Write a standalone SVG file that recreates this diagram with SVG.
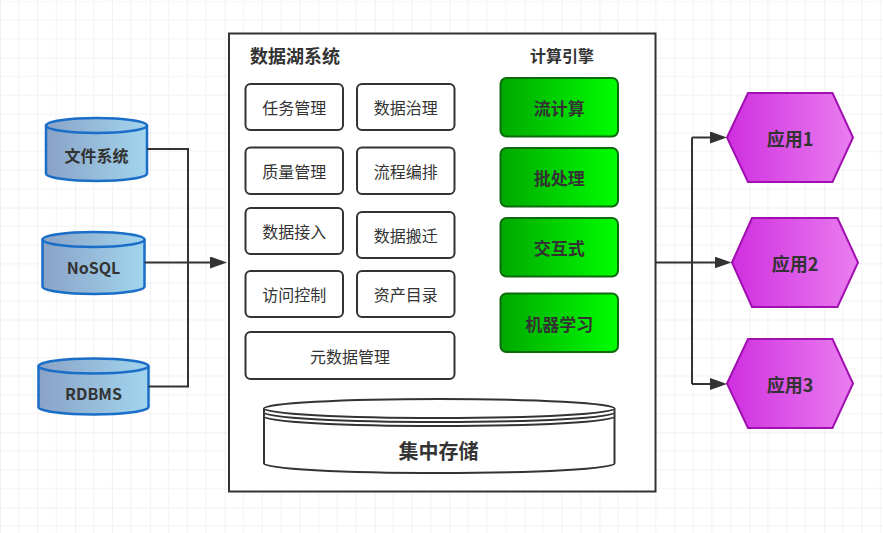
<svg xmlns="http://www.w3.org/2000/svg" width="883" height="533" viewBox="0 0 883 533">
<style>
text{font-family:"Noto Sans CJK SC","Noto Sans",sans-serif;fill:#333;text-anchor:middle;dominant-baseline:central}
.b{font-weight:bold}
.box{fill:#fff;stroke:#333;stroke-width:2}
.green{fill:url(#gGreen);stroke:#0d6b0d;stroke-width:2}
.cyl{fill:url(#gBlue);stroke:#1a6ec8;stroke-width:2.5}
.hex{fill:url(#gPink);stroke:#a010b0;stroke-width:2}
.store{fill:#fff;stroke:#333;stroke-width:2}
.conn{fill:none;stroke:#333;stroke-width:2}
</style>
<defs>
<pattern id="grid" patternUnits="userSpaceOnUse" x="0" y="57.7" width="74.93" height="74.93">
<path d="M18.73,0V74.93M37.47,0V74.93M56.2,0V74.93M0,18.73H74.93M0,37.47H74.93M0,56.2H74.93" stroke="#f2f2f2" stroke-width="1" fill="none"/>
<path d="M0,0V74.93M0,0H74.93" stroke="#e4e4e4" stroke-width="1" fill="none"/>
</pattern>
<linearGradient id="gGreen" x1="0" y1="0" x2="1" y2="0"><stop offset="0" stop-color="#00a800"/><stop offset="1" stop-color="#00ff00"/></linearGradient>
<linearGradient id="gBlue" x1="0" y1="0" x2="1" y2="0"><stop offset="0" stop-color="#8aa2c6"/><stop offset="1" stop-color="#a2d6ee"/></linearGradient>
<linearGradient id="gPink" x1="0" y1="0" x2="1" y2="0"><stop offset="0" stop-color="#cf2fdf"/><stop offset="1" stop-color="#ea7ef0"/></linearGradient>
<marker id="arr" markerUnits="userSpaceOnUse" markerWidth="17" markerHeight="12" refX="7" refY="6" orient="auto">
<path d="M0,0L17,6L0,12Z" fill="#333"/>
</marker>
</defs>
<rect width="883" height="533" fill="#fff"/>
<rect width="883" height="533" fill="url(#grid)"/>

<g id="container">
<rect x="229" y="33.5" width="426.5" height="458" fill="#fff" stroke="#333" stroke-width="2"/>
<text class="b" x="295" y="55" font-size="18">数据湖系统</text>
<text class="b" x="562" y="55" font-size="16">计算引擎</text>
</g>

<g id="task"><rect class="box" x="245.5" y="84" width="97.5" height="46" rx="5"/><text x="294.2" y="107" font-size="16">任务管理</text></g>
<g id="govern"><rect class="box" x="357" y="84" width="97.5" height="46" rx="5"/><text x="405.7" y="107" font-size="16">数据治理</text></g>
<g id="quality"><rect class="box" x="245.5" y="147.5" width="97.5" height="46.5" rx="5"/><text x="294.2" y="171" font-size="16">质量管理</text></g>
<g id="flow"><rect class="box" x="357" y="147.5" width="97.5" height="46.5" rx="5"/><text x="405.7" y="171" font-size="16">流程编排</text></g>
<g id="ingest"><rect class="box" x="245.5" y="208" width="97.5" height="46" rx="5"/><text x="294.2" y="231" font-size="16">数据接入</text></g>
<g id="migrate"><rect class="box" x="357" y="212" width="97.5" height="46" rx="5"/><text x="405.7" y="235" font-size="16">数据搬迁</text></g>
<g id="access"><rect class="box" x="245.5" y="271" width="97.5" height="46" rx="5"/><text x="294.2" y="294" font-size="16">访问控制</text></g>
<g id="catalog"><rect class="box" x="357" y="271" width="97.5" height="46" rx="5"/><text x="405.7" y="294" font-size="16">资产目录</text></g>
<g id="meta"><rect class="box" x="245.5" y="332" width="209" height="47" rx="5"/><text x="350" y="355.5" font-size="16">元数据管理</text></g>

<g id="stream"><rect class="green" x="500.5" y="78" width="117.5" height="58.5" rx="6"/><text class="b" x="559.2" y="107.5" font-size="17">流计算</text></g>
<g id="batch"><rect class="green" x="500.5" y="148" width="117.5" height="58.5" rx="6"/><text class="b" x="559.2" y="177.5" font-size="17">批处理</text></g>
<g id="interactive"><rect class="green" x="500.5" y="218" width="117.5" height="58.5" rx="6"/><text class="b" x="559.2" y="247.5" font-size="17">交互式</text></g>
<g id="ml"><rect class="green" x="500.5" y="293.5" width="117.5" height="58.5" rx="6"/><text class="b" x="559.2" y="323" font-size="17">机器学习</text></g>

<g id="storage">
<path class="store" d="M264,408.5A175.25,9.5 0 0 1 614.5,408.5V463.5A175.25,9.5 0 0 1 264,463.5Z"/>
<path class="store" fill="none" d="M264,408.5A175.25,9.5 0 0 0 614.5,408.5M264,412.5A175.25,9.5 0 0 0 614.5,412.5M264,416.5A175.25,9.5 0 0 0 614.5,416.5"/>
<text class="b" x="438.5" y="450" font-size="20">集中存储</text>
</g>

<g id="fs">
<path class="cyl" d="M46,125.5A50.5,7.5 0 0 1 147,125.5V173.5A50.5,7.5 0 0 1 46,173.5Z"/>
<path class="cyl" fill="none" style="fill:none" d="M46,125.5A50.5,7.5 0 0 0 147,125.5"/>
<text class="b" x="96.5" y="155" font-size="16">文件系统</text>
</g>
<g id="nosql">
<path class="cyl" d="M42.5,239.5A51,7.5 0 0 1 144.5,239.5V286.5A51,7.5 0 0 1 42.5,286.5Z"/>
<path class="cyl" style="fill:none" d="M42.5,239.5A51,7.5 0 0 0 144.5,239.5"/>
<text class="b" x="93.5" y="267" font-size="16">NoSQL</text>
</g>
<g id="rdbms">
<path class="cyl" d="M38.5,366A55,7.5 0 0 1 148.5,366V407A55,7.5 0 0 1 38.5,407Z"/>
<path class="cyl" style="fill:none" d="M38.5,366A55,7.5 0 0 0 148.5,366"/>
<text class="b" x="93.5" y="392.5" font-size="16">RDBMS</text>
</g>

<g id="app1"><polygon class="hex" points="727,137.5 748,93 832.5,93 853,137.5 832.5,182 748,182"/><text class="b" x="790" y="138" font-size="18">应用1</text></g>
<g id="app2"><polygon class="hex" points="732,262.5 752,218 837.5,218 858,262.5 837.5,307 752,307"/><text class="b" x="795" y="263" font-size="18">应用2</text></g>
<g id="app3"><polygon class="hex" points="727,383.5 748,339 832.5,339 853,383.5 832.5,428 748,428"/><text class="b" x="790" y="384" font-size="18">应用3</text></g>

<g id="connectors">
<path class="conn" stroke-width="2.5" d="M147,149H188V386.5H148.5"/>
<path class="conn" stroke-width="2.5" d="M144.5,262.5H217" marker-end="url(#arr)"/>
<path class="conn" stroke-width="2.5" d="M655,262.5H692"/>
<path class="conn" d="M692,137.5V384"/>
<path class="conn" d="M692,137.5H717" marker-end="url(#arr)"/>
<path class="conn" d="M692,262.5H721.5" marker-end="url(#arr)"/>
<path class="conn" d="M692,384H717" marker-end="url(#arr)"/>
</g>
</svg>
